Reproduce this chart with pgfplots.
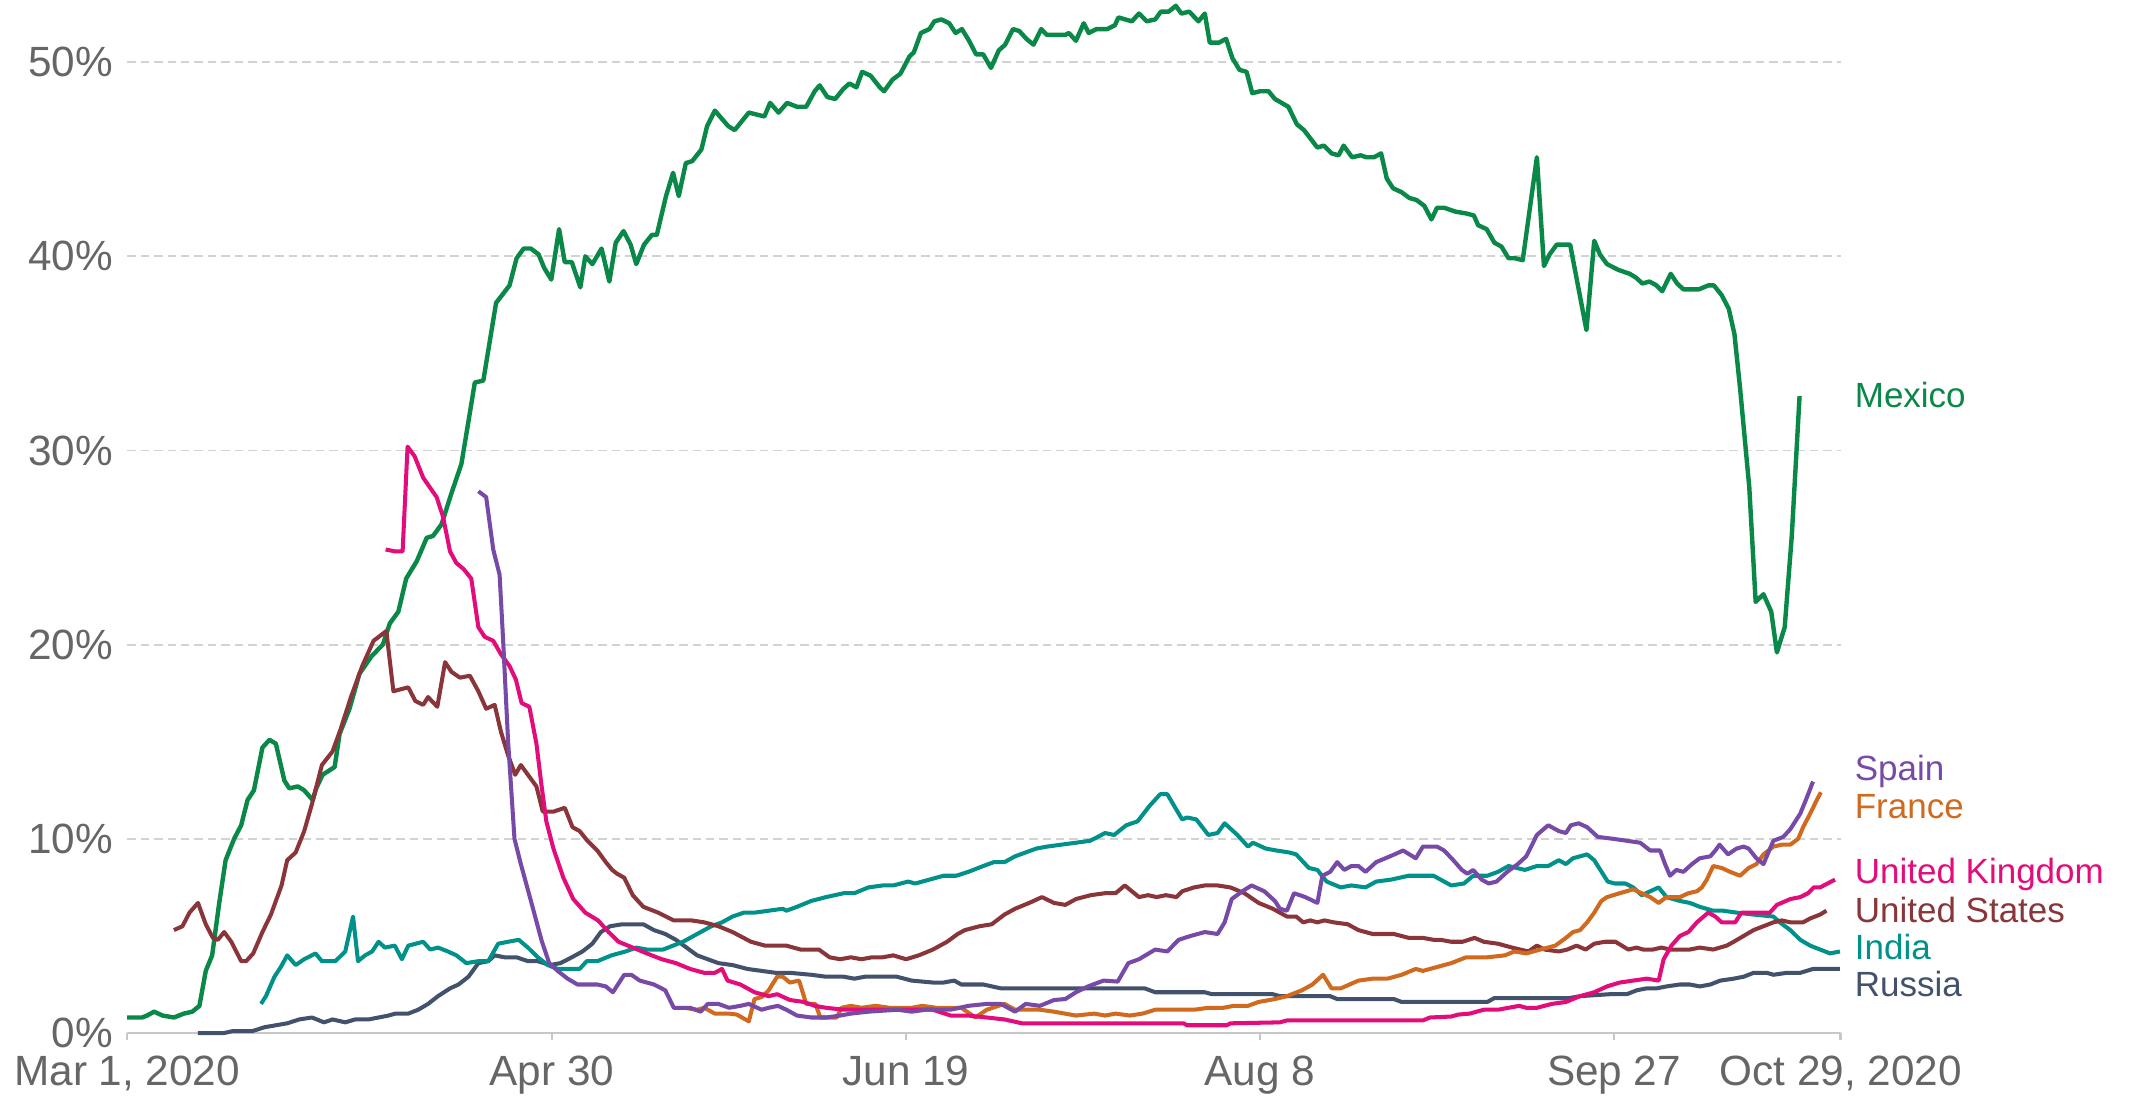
\documentclass[border=0pt]{standalone}
\usepackage{fontspec}
\setmainfont{Liberation Sans}
\usepackage{pgfplots}
\pgfplotsset{compat=1.18}

\definecolor{cMex}{RGB}{10,136,72}
\definecolor{cUK}{RGB}{226,12,122}
\definecolor{cESP}{RGB}{118,74,166}
\definecolor{cFRA}{RGB}{208,106,30}
\definecolor{cUSA}{RGB}{137,53,57}
\definecolor{cIND}{RGB}{0,145,138}
\definecolor{cRUS}{RGB}{66,82,108}
\definecolor{ticktext}{RGB}{102,102,102}
\definecolor{gridgray}{RGB}{210,210,210}
\definecolor{axisgray}{RGB}{200,200,200}

\newcommand{\tickfont}{\fontsize{11}{13}\selectfont}
\newcommand{\labfont}{\fontsize{9.1}{11}\selectfont}

\begin{document}
\begin{tikzpicture}
\begin{axis}[
    name=ax,
    scale only axis,
    width=445.5pt,
    height=268.6pt,
    xmin=0, xmax=242,
    ymin=0, ymax=53.2,
    clip=false,
    axis x line*=bottom,
    axis y line*=left,
    y axis line style={draw=none},
    x axis line style={draw=axisgray, line width=0.6pt},
    xtick={0,60,110,160,210,242},
    xticklabels={{Mar 1, 2020},{Apr 30},{Jun 19},{Aug 8},{Sep 27},{Oct 29, 2020}},
    ytick={0,10,20,30,40,50},
    yticklabels={0\%,10\%,20\%,30\%,40\%,50\%},
    tick align=outside,
    major tick length=1.8pt,
    xtick style={draw=axisgray, line width=0.6pt},
    ytick style={draw=none},
    ymajorgrids,
    grid style={gridgray, line width=0.5pt, dash pattern=on 2.2pt off 1.3pt},
    ticklabel style={font=\tickfont, text=ticktext},
    xticklabel style={inner ysep=0pt, yshift=-4.0pt},
    yticklabel style={xshift=1.6pt},
    every axis plot/.append style={line join=round, line width=1.05pt},
]

% Mexico
\addplot[cMex, line width=1.15pt] coordinates {
(0,0.8)(2.1,0.8)(2.8,0.9)(3.8,1.1)(5,0.9)(6.6,0.8)(8,1.0)(9.2,1.1)(10.2,1.4)(11.1,3.2)(12,4.0)(13,6.7)(13.9,8.9)(15.1,10.0)(16.1,10.7)(17,12.0)(17.9,12.5)(19.1,14.7)(20.1,15.1)(21,14.9)(22.2,13.0)(22.9,12.6)(24.1,12.7)(25,12.5)(26.2,12.0)(26.7,12.6)(27.6,13.3)(29.3,13.7)(30,15.4)(31.4,16.7)(32.8,18.5)(34.5,19.4)(36.1,20.0)(37.1,21.1)(38.3,21.7)(39.4,23.4)(40.9,24.3)(42.3,25.5)(43.2,25.6)(44.4,26.2)(45.8,27.8)(47.2,29.3)(48.2,31.5)(49.1,33.5)(50.3,33.6)
(52.1,37.6)(54,38.5)(55,39.9)(56,40.4)(57,40.4)(58.1,40.1)(58.9,39.4)(59.9,38.8)(61,41.4)(61.8,39.7)(62.8,39.7)(64,38.4)(64.7,40.0)(65.7,39.6)(67,40.4)(68.1,38.7)(69,40.7)(70.1,41.3)(71.1,40.6)(71.9,39.6)(73,40.6)(74.1,41.1)(74.8,41.1)(76.1,43.1)(77.1,44.3)(77.9,43.1)(78.9,44.8)(79.8,44.9)(81.1,45.5)(81.9,46.7)(83,47.5)(84.9,46.7)(85.8,46.5)(87.8,47.4)(90,47.2)(90.8,47.9)(92,47.4)(93.2,47.9)(94.6,47.7)(95.9,47.7)(97.1,48.5)(97.8,48.8)(98.9,48.2)(100,48.1)(101.1,48.6)(102,48.9)(103,48.7)(103.8,49.5)(105,49.3)(106.3,48.7)(106.9,48.5)(108.1,49.1)(109.2,49.4)(110.5,50.3)(111.1,50.5)(112.1,51.5)(113.3,51.7)(114,52.1)(115,52.2)(116.1,52.0)(117,51.5)(117.9,51.7)(118.9,51.1)(119.9,50.4)(120.9,50.4)(122,49.7)(123.1,50.6)(124,50.9)(125.1,51.7)(126,51.6)(127,51.2)(128,50.9)(129.1,51.7)(129.9,51.4)(132.5,51.4)(133,51.5)(134,51.1)(135.1,52.0)(135.8,51.5)(136.9,51.7)(138.4,51.7)(139.5,51.9)(140,52.3)(141.9,52.1)(142.9,52.5)(144,52.1)(145.2,52.2)(146,52.6)(147.1,52.6)(148.1,52.9)(148.9,52.5)(150,52.6)(151.3,52.1)(152.2,52.5)(152.9,51.0)(154.2,51.0)(155.2,51.2)(156.1,50.2)(157.1,49.6)(158.1,49.5)(158.9,48.4)(160,48.5)(161.2,48.5)(162.1,48.1)(164,47.7)(165.2,46.8)(166.2,46.5)(168.1,45.6)(169,45.7)(170.1,45.3)(171.1,45.2)(171.8,45.7)(173,45.1)(174.2,45.2)(175,45.1)(176.1,45.1)(177.1,45.3)(177.9,44.0)(178.8,43.5)(180,43.3)(181.1,43.0)(182.1,42.9)(183.2,42.6)(184.2,41.9)(185,42.5)(186,42.5)(187.6,42.3)(189.2,42.2)(190.2,42.1)(190.8,41.6)(192,41.4)(193.1,40.7)(194.1,40.5)(195.1,39.9)(196,39.9)(197.1,39.8)(199.1,45.1)(200.1,39.5)(200.9,40.1)(201.9,40.6)(203.8,40.6)(206.1,36.2)(207.2,40.8)(208,40.1)(209,39.6)(210.6,39.3)(212.2,39.1)(213.1,38.9)(214,38.6)(215,38.7)(216,38.5)(216.8,38.2)(218,39.1)(218.9,38.6)(219.8,38.3)(222,38.3)(223.3,38.5)(224.1,38.5)(225.2,38.0)(226.2,37.3)(227,36.0)(227.8,33.2)(229.1,28.1)(230,22.2)(231.1,22.6)(232.2,21.7)(233,19.6)(234.1,20.9)(235.1,25.6)(236.2,32.8)
};

% Russia
\addplot[cRUS] coordinates {
(10,0.0)(13.7,0.0)(14.9,0.1)(17.7,0.1)(19.4,0.3)(21,0.4)(22.6,0.5)(24.3,0.7)(26.1,0.8)(27.8,0.55)(29,0.7)(30.8,0.55)(32.2,0.7)(34.1,0.7)(35.5,0.8)(36.9,0.9)(37.9,1.0)(39.7,1.0)(41.1,1.2)(42.5,1.5)(43.9,1.9)(45.6,2.3)(46.8,2.5)(48.2,2.9)(49.6,3.6)(51,3.7)(51.9,4.0)(53.3,3.9)(55,3.9)(56.6,3.7)(58,3.7)(59.7,3.5)(61.2,3.6)(62.8,3.9)(64.3,4.2)(65.7,4.6)(66.9,5.2)(68.2,5.5)(69.9,5.6)(72.9,5.6)(74.4,5.3)(76,5.1)(77.5,4.8)(79,4.4)(80.5,4.0)(82,3.8)(83.5,3.6)(85.5,3.5)(87.6,3.3)(89.6,3.2)(91.6,3.1)(93.6,3.1)(96.6,3.0)(98.7,2.9)(101.2,2.9)(102.7,2.8)(104.2,2.9)(108.7,2.9)(110.8,2.7)(113.8,2.6)(115.3,2.6)(116.8,2.7)(117.8,2.5)(120.9,2.5)(123.4,2.3)(143.7,2.3)(145.2,2.1)(152.2,2.1)(153.2,2.0)(161.8,2.0)(162.8,1.9)(169.9,1.9)(170.9,1.75)(178.9,1.75)(180,1.6)(192.1,1.6)(193.1,1.8)(203.7,1.8)(205.2,1.9)(209.4,2.0)(211.8,2.0)(213.2,2.2)(214.6,2.3)(216,2.3)(217.4,2.4)(219.3,2.5)(220.7,2.5)(222.1,2.4)(223.6,2.5)(225,2.7)(226.9,2.8)(228.3,2.9)(229.7,3.1)(231.6,3.1)(232.5,3.0)(234.4,3.1)(236.3,3.1)(238.1,3.3)(241.9,3.3)
};

% India
\addplot[cIND] coordinates {
(18.9,1.5)(19.6,1.9)(20.8,2.9)(21.7,3.4)(22.6,4.0)(23.8,3.5)(25,3.8)(26.6,4.1)(27.5,3.7)(29.4,3.7)(30.8,4.2)(31.9,6.0)(32.6,3.7)(33.6,4.0)(34.6,4.2)(35.5,4.7)(36.4,4.4)(37.8,4.5)(38.8,3.8)(39.7,4.5)(41.8,4.7)(42.8,4.3)(43.9,4.4)(45.3,4.2)(46.5,4.0)(47.9,3.6)(49.6,3.7)(51,3.7)(52.4,4.6)(53.8,4.7)(55.3,4.8)(56.6,4.4)(58,3.9)(59.4,3.5)(60.8,3.3)(62.2,3.3)(63.9,3.3)(64.9,3.7)(66.4,3.7)(68.4,4.0)(70.4,4.2)(71.9,4.4)(73.4,4.3)(75.7,4.3)(78.5,4.7)(80.5,5.1)(82.5,5.5)(84,5.7)(85.5,6.0)(87.1,6.2)(88.6,6.2)(90.6,6.3)(92.6,6.4)(93.1,6.3)(94.6,6.5)(96.6,6.8)(98.7,7.0)(101.2,7.2)(102.7,7.2)(104.7,7.5)(106.7,7.6)(108.2,7.6)(110.3,7.8)(111.3,7.7)(113.3,7.9)(115.3,8.1)(117.1,8.1)(118.8,8.3)(120.9,8.6)(122.4,8.8)(123.9,8.8)(125.4,9.1)(126.9,9.3)(128.4,9.5)(129.9,9.6)(131.9,9.7)(134,9.8)(136,9.9)(137.1,10.1)(138.1,10.3)(139.4,10.2)(141.1,10.7)(142.7,10.9)(144.4,11.7)(145.9,12.3)(146.9,12.3)(149,11.0)(149.7,11.1)(151,11.0)(152.7,10.2)(154,10.3)(155,10.8)(156.8,10.2)(158.3,9.6)(159,9.8)(160.8,9.5)(162.3,9.4)(164.1,9.3)(165.1,9.2)(166.9,8.5)(168.1,8.4)(169.4,7.8)(171.4,7.5)(172.9,7.6)(174.9,7.5)(176.4,7.8)(178.5,7.9)(181,8.1)(184.5,8.1)(187,7.6)(188.8,7.7)(190.1,8.1)(192.1,8.1)(193.6,8.3)(195.1,8.6)(197.4,8.4)(199.1,8.6)(200.7,8.6)(202.2,8.9)(203.2,8.7)(204.2,9.0)(206.2,9.2)(207.2,8.9)(209.1,7.8)(210.1,7.7)(211.6,7.7)(212.7,7.5)(213.9,7.1)(215.1,7.3)(216.3,7.5)(217.4,7.0)(219.3,6.8)(220.7,6.7)(222.1,6.5)(224,6.3)(225.4,6.3)(227.3,6.2)(229.7,6.1)(232.5,6.0)(233.4,5.7)(234.9,5.3)(236.3,4.8)(237.7,4.5)(239.1,4.3)(240.5,4.1)(241.9,4.2)
};

% United States
\addplot[cUSA] coordinates {
(6.6,5.3)(7.8,5.5)(8.8,6.2)(10,6.7)(11.1,5.6)(12.1,4.9)(12.8,4.8)(13.7,5.2)(14.7,4.7)(16.1,3.7)(16.8,3.7)(17.8,4.1)(19.1,5.2)(20.3,6.1)(21.8,7.6)(22.6,8.9)(23.8,9.3)(25,10.4)(26.1,11.8)(27.5,13.8)(29,14.5)(30.1,15.6)(31.6,17.3)(33.2,18.9)(34.8,20.2)(36.6,20.7)(37.6,17.6)(38.6,17.7)(39.7,17.8)(40.7,17.1)(41.8,16.9)(42.5,17.3)(43.8,16.8)(44.9,19.1)(45.8,18.6)(47,18.3)(48.4,18.4)(49.6,17.6)(50.7,16.7)(51.9,16.9)(52.8,15.5)(53.8,14.3)(54.8,13.3)(55.6,13.8)(56.6,13.3)(57.8,12.7)(58.7,11.4)(60.2,11.4)(61,11.5)(61.8,11.6)(62.9,10.6)(63.9,10.4)(65,9.9)(66.4,9.4)(67.6,8.8)(68.5,8.4)(69.2,8.2)(70.2,8.0)(71.4,7.1)(72.9,6.5)(75,6.2)(77.2,5.8)(79.7,5.8)(81.5,5.7)(83.5,5.5)(85.5,5.2)(88.1,4.7)(90.1,4.5)(93.1,4.5)(95.1,4.3)(97.7,4.3)(99.2,3.9)(100.7,3.8)(102.2,3.9)(103.7,3.8)(105.2,3.9)(106.7,3.9)(108.2,4.0)(110,3.8)(111.8,4.0)(113.8,4.3)(115.8,4.7)(117.3,5.1)(118.3,5.3)(120.4,5.5)(122.1,5.6)(123.9,6.1)(125.4,6.4)(127.4,6.7)(129.2,7.0)(130.9,6.7)(132.5,6.6)(134,6.9)(136.1,7.1)(138.1,7.2)(139.6,7.2)(140.9,7.6)(142.9,7.0)(144.2,7.1)(145.4,7.0)(146.7,7.1)(148.2,7.0)(149,7.3)(150.7,7.5)(152.2,7.6)(154,7.6)(155.8,7.5)(157.8,7.2)(159.8,6.7)(161.8,6.4)(163.8,6.0)(165.1,6.0)(166.1,5.7)(167.1,5.8)(168.1,5.7)(169.1,5.8)(170.4,5.7)(172.4,5.6)(173.9,5.3)(175.9,5.1)(178.9,5.1)(181,4.9)(183,4.9)(184.5,4.8)(185.5,4.8)(187,4.7)(188.6,4.7)(190.3,4.9)(191.6,4.7)(193.6,4.6)(195.6,4.4)(197.9,4.2)(199.1,4.5)(200.2,4.3)(202.2,4.2)(203.4,4.3)(204.7,4.5)(206,4.3)(207.2,4.6)(208.7,4.7)(210.2,4.7)(212,4.3)(213.2,4.4)(214.1,4.3)(215.5,4.3)(216.7,4.4)(217.9,4.3)(219.3,4.3)(220.7,4.3)(222.1,4.4)(224,4.3)(225.9,4.5)(226.9,4.7)(228.3,5.0)(229.7,5.3)(231.1,5.5)(232.5,5.7)(233.7,5.8)(234.9,5.7)(236.7,5.7)(237.7,5.9)(239.1,6.1)(240,6.3)
};

% France
\addplot[cFRA] coordinates {
(78.7,1.3)(80.5,1.2)(81.5,1.3)(83,1.0)(85,1.0)(86.1,0.95)(87.8,0.6)(88.6,1.75)(89.6,1.85)(90.6,2.2)(91.8,2.9)(92.6,2.9)(93.6,2.6)(94.9,2.7)(95.9,1.5)(97.2,1.5)(97.9,0.8)(100.2,0.8)(100.9,1.3)(102.2,1.4)(103.7,1.3)(105.7,1.4)(107.7,1.3)(110.8,1.3)(112.3,1.4)(114.3,1.3)(117.8,1.3)(119.8,0.8)(121.4,1.2)(123.9,1.5)(125.4,1.2)(128.9,1.2)(130.9,1.1)(134,0.9)(136.6,1.0)(138.1,0.9)(139.6,1.0)(141.6,0.9)(143.4,1.0)(145.2,1.2)(150.7,1.2)(152.7,1.3)(154.8,1.3)(156.3,1.4)(158.3,1.4)(159.8,1.6)(162.1,1.75)(163.8,1.9)(165.9,2.2)(167.4,2.5)(168.9,3.0)(170.1,2.3)(171.4,2.3)(173.9,2.7)(175.9,2.8)(178,2.8)(180,3.0)(182,3.3)(183,3.2)(185,3.4)(187,3.6)(189.1,3.9)(192.1,3.9)(194.6,4.0)(195.9,4.2)(197.6,4.1)(199.6,4.3)(201.7,4.5)(203.2,4.9)(204.2,5.2)(205.2,5.3)(206.2,5.7)(207.2,6.2)(208.2,6.8)(209,7.0)(210.8,7.2)(212.7,7.4)(213.9,7.2)(215.1,7.0)(216.3,6.7)(217.4,7.0)(219.3,7.0)(220.5,7.2)(221.7,7.3)(222.4,7.5)(223.1,7.9)(224,8.6)(225.2,8.5)(226.4,8.3)(227.8,8.1)(229,8.5)(230.1,8.7)(231.1,9.2)(232.5,9.6)(233.7,9.7)(234.9,9.7)(236,10.0)(236.7,10.6)(237.7,11.3)(238.5,11.9)(239.2,12.4)
};

% United Kingdom
\addplot[cUK] coordinates {
(36.5,24.9)(37.9,24.8)(38.9,24.8)(39.6,30.2)(40.6,29.7)(41.8,28.6)(43.7,27.6)(44.6,26.6)(45.6,24.8)(46.5,24.2)(47.5,23.9)(48.6,23.4)(49.6,20.9)(50.5,20.4)(51.7,20.2)(52.8,19.5)(54,18.9)(54.9,18.2)(55.7,17.0)(56.8,16.8)(57.8,14.9)(58.5,12.8)(59.2,10.9)(60.2,9.5)(61.6,8.0)(63,6.9)(64.7,6.2)(66.5,5.8)(68,5.2)(69.4,4.7)(71.4,4.4)(73.4,4.1)(75.5,3.8)(77.5,3.6)(79.5,3.3)(81.5,3.1)(83,3.1)(84,3.3)(84.8,2.7)(86.6,2.5)(88.6,2.1)(90.6,1.9)(91.8,2.0)(93.6,1.7)(95.6,1.6)(97.1,1.4)(98.7,1.3)(101.2,1.2)(113.8,1.2)(116.3,0.9)(118.8,0.9)(121.4,0.8)(123.9,0.7)(126.4,0.5)(149.2,0.5)(149.7,0.4)(155.3,0.4)(155.8,0.5)(162.8,0.55)(163.8,0.65)(183,0.65)(184,0.8)(187,0.85)(188,0.95)(189.6,1.0)(191.6,1.2)(193.6,1.2)(195.1,1.3)(196.6,1.4)(197.6,1.3)(199.1,1.3)(201.2,1.5)(203.2,1.6)(205.2,1.9)(207.2,2.1)(209,2.4)(210.8,2.6)(212.7,2.7)(214.6,2.8)(216.3,2.7)(217,3.8)(218.1,4.5)(219.3,5.0)(220.5,5.2)(221.7,5.7)(223.3,6.2)(224.3,6.0)(225.2,5.7)(227.1,5.7)(228,6.2)(232,6.2)(233,6.6)(234.9,6.9)(236.3,7.0)(237.4,7.2)(238.2,7.5)(239.1,7.5)(241.2,7.9)
};

% Spain
\addplot[cESP] coordinates {
(49.6,27.9)(50.7,27.6)(51.7,24.9)(52.6,23.6)(53.1,20.2)(53.8,15.0)(54.7,10.0)(55.6,8.7)(57.1,6.7)(58.5,4.8)(59.6,3.6)(60.8,3.2)(62.2,2.8)(63.6,2.5)(66.4,2.5)(67.6,2.4)(68.6,2.1)(70.2,3.0)(71.2,3.0)(72.4,2.7)(74.4,2.5)(76,2.2)(77.2,1.3)(79.5,1.3)(81,1.1)(82,1.5)(83.5,1.5)(85,1.3)(86.6,1.4)(87.8,1.5)(89.6,1.2)(90.6,1.3)(91.9,1.4)(93.1,1.2)(94.6,0.9)(96.6,0.8)(98.7,0.8)(100.7,0.9)(102.2,1.0)(104.7,1.1)(108.8,1.2)(110.8,1.1)(112.8,1.2)(116.3,1.2)(118.8,1.4)(121.4,1.5)(123.4,1.5)(125.4,1.1)(126.9,1.5)(128.9,1.4)(130.9,1.7)(132.5,1.75)(134,2.1)(135.7,2.4)(137.9,2.7)(139.9,2.65)(141.4,3.6)(142.9,3.8)(145.2,4.3)(146.9,4.2)(148.5,4.8)(150.2,5.0)(152.2,5.2)(154,5.1)(155,5.7)(156,6.9)(157.5,7.3)(158.8,7.6)(160.6,7.3)(162.1,6.8)(162.8,6.4)(163.8,6.3)(164.8,7.2)(166.4,7.0)(168.1,6.7)(168.8,8.1)(169.9,8.3)(170.9,8.8)(171.9,8.4)(172.9,8.6)(173.9,8.6)(174.9,8.3)(176.4,8.8)(177.7,9.0)(179,9.2)(180.2,9.4)(182,9.0)(183,9.6)(185,9.6)(186,9.4)(187.3,8.9)(188.5,8.4)(189.3,8.2)(190.1,8.4)(191.3,7.9)(192.3,7.7)(193.4,7.8)(194.9,8.3)(196.4,8.7)(197.6,9.1)(199.1,10.2)(200.7,10.7)(202.2,10.4)(203.2,10.3)(203.9,10.7)(205,10.8)(206.2,10.6)(207.7,10.1)(209.9,10.0)(211.8,9.9)(213.7,9.8)(215.1,9.4)(216.5,9.4)(217.2,8.7)(217.9,8.1)(218.8,8.4)(219.8,8.3)(221,8.7)(222.1,9.0)(223.6,9.1)(224.3,9.4)(224.9,9.7)(226.1,9.2)(227.3,9.5)(228.3,9.6)(229,9.5)(230.1,9.0)(231.1,8.7)(231.8,9.3)(232.5,9.9)(233.9,10.1)(234.9,10.5)(236.3,11.3)(237.2,12.1)(238.1,12.95)
};

% end labels
\begin{scope}[every node/.style={anchor=base west, inner sep=0pt, font=\labfont, yshift=-3.26pt}]
\node[text=cMex] at (axis cs:243.9,32.85) {Mexico};
\node[text=cESP] at (axis cs:243.9,13.65) {Spain};
\node[text=cFRA] at (axis cs:243.9,11.7) {France};
\node[text=cUK]  at (axis cs:243.9,8.35) {United Kingdom};
\node[text=cUSA] at (axis cs:243.9,6.35) {United States};
\node[text=cIND] at (axis cs:243.9,4.45) {India};
\node[text=cRUS] at (axis cs:243.9,2.55) {Russia};
\end{scope}
\end{axis}
\path ([xshift=-33.07pt,yshift=-16.5pt]ax.south west) rectangle ([xshift=76.28pt]ax.north east);
\end{tikzpicture}
\end{document}
